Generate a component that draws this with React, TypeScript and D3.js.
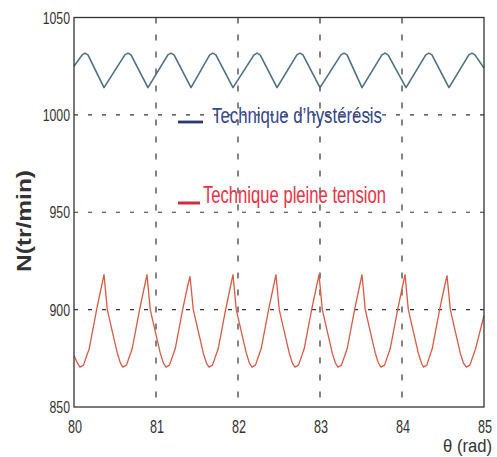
import * as d3 from "d3";

// ── Data ──────────────────────────────────────────────────────────────────────

const X_TICKS = [80, 81, 82, 83, 84, 85];
const Y_TICKS = [850, 900, 950, 1000, 1050];

// hysteresis technique: triangle-like ripple, sharp troughs / rounded crests
const HYST_THETA = [
  80.0, 80.1, 80.134, 80.17, 80.366,
  80.62, 80.659, 80.695, 80.902,
  81.145, 81.183, 81.22, 81.427,
  81.655, 81.695, 81.73, 81.939,
  82.195, 82.232, 82.27, 82.476,
  82.718, 82.756, 82.792, 83.0,
  83.255, 83.293, 83.33, 83.512,
  83.755, 83.793, 83.83, 84.049,
  84.29, 84.329, 84.365, 84.573,
  84.815, 84.854, 84.89, 85.0,
];
const HYST_N = [
  1025, 1030.8, 1031.7, 1030.8, 1014,
  1030.8, 1031.7, 1030.8, 1014,
  1030.8, 1031.7, 1030.8, 1014,
  1030.8, 1031.7, 1030.8, 1014,
  1030.8, 1031.7, 1030.8, 1014,
  1030.8, 1031.7, 1030.8, 1014,
  1030.8, 1031.7, 1030.8, 1014,
  1030.8, 1031.7, 1030.8, 1014,
  1030.8, 1031.7, 1030.8, 1014,
  1030.8, 1031.7, 1030.8, 1024,
];

// full-voltage technique: sharp crests, rounded troughs
const FULL_THETA = [
  80.0, 80.042,
  80.073, 80.116, 80.186, 80.276, 80.336, 80.366, 80.406, 80.466, 80.526, 80.566,
  80.597, 80.64, 80.71, 80.8, 80.86, 80.89, 80.93, 80.99, 81.05, 81.09,
  81.122, 81.165, 81.235, 81.325, 81.385, 81.415, 81.455, 81.515, 81.575, 81.615,
  81.646, 81.689, 81.759, 81.849, 81.909, 81.939, 81.979, 82.039, 82.099, 82.139,
  82.17, 82.213, 82.283, 82.373, 82.433, 82.463, 82.503, 82.563, 82.623, 82.663,
  82.695, 82.738, 82.808, 82.898, 82.958, 82.988, 83.028, 83.088, 83.148, 83.188,
  83.219, 83.262, 83.332, 83.422, 83.482, 83.512, 83.552, 83.612, 83.672, 83.712,
  83.744, 83.787, 83.857, 83.947, 84.007, 84.037, 84.077, 84.137, 84.197, 84.237,
  84.262, 84.302, 84.369, 84.459, 84.519, 84.549, 84.589, 84.649, 84.709, 84.749,
  84.785, 84.828, 84.898, 85.0,
];
const FULL_N = [
  876.5, 872.5,
  870.5, 871.5, 880, 900, 912, 918, 900, 889, 878, 872.5,
  870.5, 871.5, 880, 900, 912, 918, 900, 889, 878, 872.5,
  870.5, 871.5, 880, 900, 912, 917, 900, 889, 878, 872.5,
  870.5, 871.5, 880, 900, 912, 918, 900, 889, 878, 872.5,
  870.5, 871.5, 880, 900, 912, 918, 900, 889, 878, 872.5,
  870.5, 871.5, 880, 900, 912, 918, 900, 889, 878, 872.5,
  870.5, 871.5, 880, 900, 912, 918, 900, 889, 878, 872.5,
  870.5, 871.5, 880, 900, 912, 918, 900, 889, 878, 872.5,
  870.5, 871.5, 880, 900, 912, 917.5, 900, 889, 878, 872.5,
  870.5, 871.5, 880, 897,
];

const LEGEND = [
  { label: "Technique d\u2019hyst\u00e9r\u00e9sis", line: "#2b3672", text: "#34468c" },
  { label: "Technique pleine tension", line: "#d42a3a", text: "#ee2f44" },
];

// ── Layout ────────────────────────────────────────────────────────────────────

const W = 497;
const H = 457;
const PLOT = { left: 74, right: 484, top: 17.5, bottom: 407 };
const FONT = "'Liberation Sans', Arial, sans-serif";

/** text stretched vertically, to mimic the squeezed look of the source image */
function SText({
  x, y, size, sy = 1.4, len, anchor = "start", fill = "#333", weight = 400, children,
}: {
  x: number; y: number; size: number; sy?: number; len?: number; anchor?: string;
  fill?: string; weight?: number; children: string;
}) {
  return (
    <text
      transform={`translate(${x},${y}) scale(1,${sy})`}
      fontSize={size}
      fontFamily={FONT}
      fontWeight={weight}
      fill={fill}
      textAnchor={anchor}
      textLength={len}
      lengthAdjust={len ? "spacingAndGlyphs" : undefined}
    >
      {children}
    </text>
  );
}

export default function App() {
  const x = d3.scaleLinear().domain([80, 85]).range([PLOT.left, PLOT.right]);
  const y = d3.scaleLinear().domain([850, 1050]).range([PLOT.bottom, PLOT.top]);

  const line = d3
    .line<[number, number]>()
    .x((d) => x(d[0]))
    .y((d) => y(d[1]))
    .curve(d3.curveLinear);

  const hyst = line(HYST_THETA.map((t, i) => [t, HYST_N[i]] as [number, number])) ?? "";
  const full = line(FULL_THETA.map((t, i) => [t, FULL_N[i]] as [number, number])) ?? "";

  return (
    <svg
      width={W}
      height={H}
      style={{ position: "absolute", left: 0, top: 0, background: "#fff" }}
    >
      {/* grid */}
      {X_TICKS.slice(1, -1).map((t) => (
        <line
          key={`gx${t}`}
          x1={x(t)} x2={x(t)} y1={PLOT.top} y2={PLOT.bottom}
          stroke="#333" strokeWidth={1.2} strokeDasharray="6,11"
        />
      ))}
      {Y_TICKS.slice(1, -1).map((t) => (
        <line
          key={`gy${t}`}
          x1={PLOT.left} x2={PLOT.right} y1={y(t)} y2={y(t)}
          stroke="#333" strokeWidth={1.2} strokeDasharray="4,10"
        />
      ))}

      {/* curves */}
      <path d={hyst} fill="none" stroke="#4d7088" strokeWidth={1.6} strokeLinejoin="round" />
      <path d={full} fill="none" stroke="#dc5a44" strokeWidth={1.3} strokeLinejoin="round" />

      {/* legend text placed inside the plot */}
      <line x1={178} x2={203} y1={122} y2={122} stroke={LEGEND[0].line} strokeWidth={2.8} />
      <SText x={212} y={122.5} size={16} sy={1.42} len={170} fill={LEGEND[0].text}>
        {LEGEND[0].label}
      </SText>
      <line x1={178} x2={200} y1={203} y2={203} stroke={LEGEND[1].line} strokeWidth={3} />
      <SText x={203} y={202.5} size={16.5} sy={1.42} len={183} fill={LEGEND[1].text}>
        {LEGEND[1].label}
      </SText>

      {/* frame */}
      <rect
        x={PLOT.left} y={PLOT.top}
        width={PLOT.right - PLOT.left} height={PLOT.bottom - PLOT.top}
        fill="none" stroke="#333" strokeWidth={1.3}
      />

      {/* tick labels */}
      {Y_TICKS.map((t) => (
        <SText key={`ty${t}`} x={70} y={y(t) + 6} size={12.3} sy={1.35} anchor="end">
          {String(t)}
        </SText>
      ))}
      {X_TICKS.map((t) => (
        <SText key={`tx${t}`} x={x(t) + 1} y={433} size={12.6} sy={1.4} anchor="middle">
          {String(t)}
        </SText>
      ))}

      {/* axis titles */}
      <SText x={492} y={452} size={16} sy={1.2} len={49} anchor="end">
        {"\u03b8 (rad)"}
      </SText>
      <text
        transform="translate(31,221) rotate(-90)"
        fontSize={20}
        fontWeight={700}
        fontFamily={FONT}
        fill="#333"
        textAnchor="middle"
        textLength={102}
        lengthAdjust="spacingAndGlyphs"
      >
        N(tr/min)
      </text>
    </svg>
  );
}
